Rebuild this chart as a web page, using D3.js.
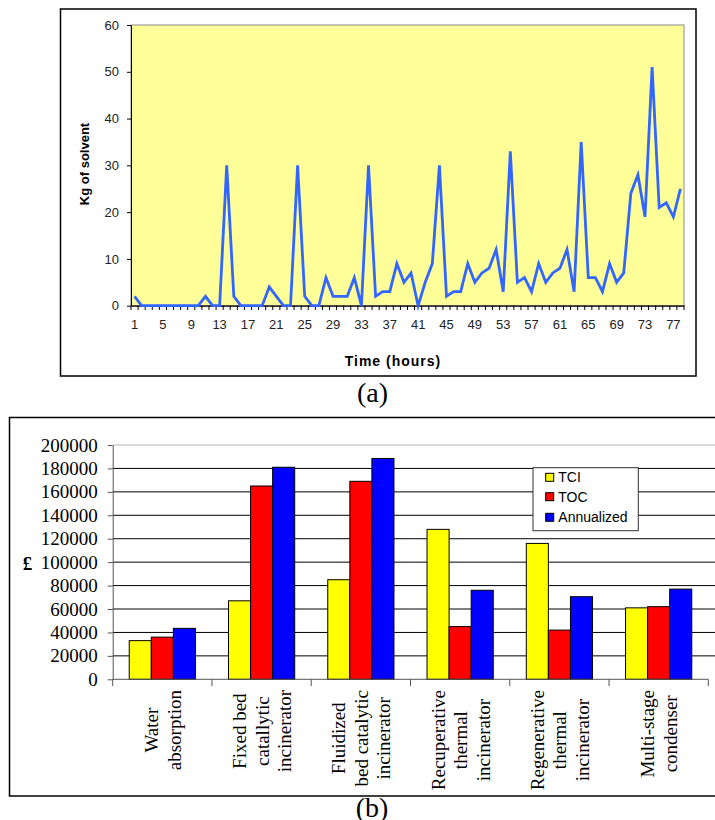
<!DOCTYPE html>
<html>
<head>
<meta charset="utf-8">
<script src="https://cdn.jsdelivr.net/npm/d3@7"></script>
<style>
  body { margin: 0; background: #fff; }
</style>
</head>
<body>
<script>
// chart (a): solvent per hour
const hours = d3.range(1, 79);
const solvent = [2,0,0,0,0,0,0,0,0,0, 2,0,0,30,2,0,0,0,0,4,
  2,0,0,30,2,0,0,6,2,2, 2,6,0,30,2,3,3,9,5,7,
  0,5,9,30,2,3,3,9,5,7, 8,12,3,33,5,6,3,9,5,7,
  8,12,3,35,6,6,3,9,5,7, 24,28,19,51,21,22,19,25];
const solventTicks = [0, 10, 20, 30, 40, 50, 60];

// chart (b): costs
const options = [
  ["Water", "absorption"],
  ["Fixed bed", "catallytic", "incinerator"],
  ["Fluidized", "bed catalytic", "incinerator"],
  ["Recuperative", "thermal", "incinerator"],
  ["Regenerative", "thermal", "incinerator"],
  ["Multi-stage", "condenser"]
];
const seriesNames = ["TCI", "TOC", "Annualized"];
const tci = [33000, 67000, 85000, 128000, 116000, 61000];
const toc = [36000, 165000, 169000, 45000, 42000, 62000];
const annualized = [43500, 181000, 188500, 76000, 70500, 77000];
const costTicks = [0, 20000, 40000, 60000, 80000, 100000, 120000, 140000, 160000, 180000, 200000];

const sans = "'Liberation Sans', Arial, sans-serif";
const serif = "'Liberation Serif', 'Times New Roman', serif";

const svg = d3.select("body").append("svg")
  .attr("width", 715)
  .attr("height", 820);

// ---------- (a) ----------
svg.append("rect")
  .attr("x", 60.5).attr("y", 9)
  .attr("width", 635.5).attr("height", 367)
  .attr("fill", "#fff").attr("stroke", "#000").attr("stroke-width", 1.5);

const ax = d3.scaleBand().domain(hours).range([131, 684]);
const ay = d3.scaleLinear().domain([0, 60]).range([305.7, 25]);

svg.append("rect")
  .attr("x", 131).attr("y", 25)
  .attr("width", 553).attr("height", 280.7)
  .attr("fill", "#ffff99").attr("stroke", "#8c8c8c").attr("stroke-width", 1);

const yAxisA = svg.append("g")
  .attr("transform", "translate(131,0)")
  .call(d3.axisLeft(ay).tickValues(solventTicks).tickSize(4).tickPadding(8).tickSizeOuter(0));
yAxisA.selectAll("text").attr("font-family", sans).attr("font-size", 13).attr("fill", "#222");
yAxisA.selectAll("line, path").attr("stroke", "#000");

const xAxisA = svg.append("g")
  .attr("transform", "translate(0,305.7)")
  .call(d3.axisBottom(ax).tickValues(hours.filter(h => (h - 1) % 4 === 0)).tickSize(0).tickPadding(14));
xAxisA.select("path").attr("stroke", "#000").attr("stroke-width", 1.3);
xAxisA.selectAll("text").attr("font-family", sans).attr("font-size", 13).attr("fill", "#222");

// tick marks between categories
svg.append("g").selectAll("line")
  .data(hours.concat([79]))
  .join("line")
  .attr("x1", d => d <= 78 ? ax(d) : ax(78) + ax.step())
  .attr("x2", d => d <= 78 ? ax(d) : ax(78) + ax.step())
  .attr("y1", 305.7).attr("y2", 310)
  .attr("stroke", "#000").attr("stroke-width", 1);

const line = d3.line()
  .x((d, i) => ax(hours[i]) + ax.bandwidth() / 2)
  .y(d => ay(d));

svg.append("path")
  .datum(solvent)
  .attr("d", line)
  .attr("fill", "none")
  .attr("stroke", "#3366ff")
  .attr("stroke-width", 2.8)
  .attr("stroke-linejoin", "miter");

svg.append("text")
  .attr("transform", "translate(89,164) rotate(-90)")
  .attr("text-anchor", "middle")
  .attr("font-family", sans).attr("font-size", 13).attr("font-weight", "bold")
  .text("Kg of solvent");

svg.append("text")
  .attr("x", 393).attr("y", 366)
  .attr("text-anchor", "middle")
  .attr("font-family", sans).attr("font-size", 14).attr("font-weight", "bold")
  .attr("letter-spacing", 1)
  .text("Time (hours)");

svg.append("text")
  .attr("x", 372.5).attr("y", 401.5)
  .attr("text-anchor", "middle")
  .attr("font-family", serif).attr("font-size", 28)
  .text("(a)");

// ---------- (b) ----------
svg.append("rect")
  .attr("x", 9.5).attr("y", 417.5)
  .attr("width", 712).attr("height", 378.5)
  .attr("fill", "#fff").attr("stroke", "#000").attr("stroke-width", 1.5);

const bx0 = d3.scaleBand().domain(d3.range(options.length))
  .range([112.7, 708.3]).paddingInner(0.333).paddingOuter(0.1665);
const bx1 = d3.scaleBand().domain(seriesNames).range([0, bx0.bandwidth()]);
const by = d3.scaleLinear().domain([0, 200000]).range([679.3, 445]);
const colors = { "TCI": "#ffff00", "TOC": "#ff0000", "Annualized": "#0000ff" };
const values = { "TCI": tci, "TOC": toc, "Annualized": annualized };

// gridlines
svg.append("g").selectAll("line")
  .data(costTicks.slice(1))
  .join("line")
  .attr("x1", 112.7).attr("x2", 715)
  .attr("y1", d => by(d)).attr("y2", d => by(d))
  .attr("stroke", d => d === 200000 ? "#b4b4b4" : "#000")
  .attr("stroke-width", 1);

// bars
const groups = svg.append("g").selectAll("g")
  .data(options.map((o, i) => i))
  .join("g")
  .attr("transform", i => `translate(${bx0(i)},0)`);

groups.selectAll("rect")
  .data(i => seriesNames.map(s => ({ s, v: values[s][i] })))
  .join("rect")
  .attr("x", d => bx1(d.s))
  .attr("y", d => by(d.v))
  .attr("width", bx1.bandwidth())
  .attr("height", d => by(0) - by(d.v))
  .attr("fill", d => colors[d.s])
  .attr("stroke", "#000").attr("stroke-width", 1);

const yAxisB = svg.append("g")
  .attr("transform", "translate(112.7,0)")
  .call(d3.axisLeft(by).tickValues(costTicks).tickFormat(d3.format("d")).tickSize(5).tickPadding(10).tickSizeOuter(0));
yAxisB.selectAll("text").attr("font-family", serif).attr("font-size", 19).attr("fill", "#000");
yAxisB.selectAll("line, path").attr("stroke", "#555");

// category axis
svg.append("line")
  .attr("x1", 112.7).attr("x2", 708.3)
  .attr("y1", 679.3).attr("y2", 679.3)
  .attr("stroke", "#555").attr("stroke-width", 1);

svg.append("g").selectAll("line")
  .data(d3.range(options.length + 1))
  .join("line")
  .attr("x1", i => i < options.length ? bx0(i) - bx0.step() * bx0.paddingInner() / 2 : 708.3)
  .attr("x2", i => i < options.length ? bx0(i) - bx0.step() * bx0.paddingInner() / 2 : 708.3)
  .attr("y1", 679.3).attr("y2", 686)
  .attr("stroke", "#555").attr("stroke-width", 1);

// rotated category labels
options.forEach((lines, i) => {
  const cx = bx0(i) + bx0.bandwidth() / 2;
  const lh = 22.5;
  const texts = lines.map((t, j) => svg.append("text")
    .attr("text-anchor", "middle")
    .attr("font-family", serif).attr("font-size", 19)
    .text(t));
  const maxLen = d3.max(texts, t => t.node().getComputedTextLength());
  const cy = 690 + maxLen / 2;
  texts.forEach((t, j) => {
    const bx = cx + (j - (lines.length - 1) / 2) * lh + 7;
    t.attr("transform", `translate(${bx},${cy}) rotate(-90)`);
  });
});

svg.append("text")
  .attr("x", 27.5).attr("y", 570)
  .attr("text-anchor", "middle")
  .attr("font-family", serif).attr("font-size", 19).attr("font-weight", "bold")
  .text("£");

// legend
const legend = svg.append("g");
legend.append("rect")
  .attr("x", 533).attr("y", 467.7)
  .attr("width", 105.3).attr("height", 63)
  .attr("fill", "#fff").attr("stroke", "#333").attr("stroke-width", 1);

const rowY = [477.3, 496.7, 517.3];
seriesNames.forEach((s, i) => {
  legend.append("rect")
    .attr("x", 545.7).attr("y", rowY[i] - 4)
    .attr("width", 8).attr("height", 8)
    .attr("fill", colors[s]).attr("stroke", "#000").attr("stroke-width", 1);
  legend.append("text")
    .attr("x", 558.3).attr("y", rowY[i] + 5)
    .attr("font-family", sans).attr("font-size", 14)
    .text(s);
});

svg.append("text")
  .attr("x", 372).attr("y", 817)
  .attr("text-anchor", "middle")
  .attr("font-family", serif).attr("font-size", 28)
  .text("(b)");
</script>
</body>
</html>
